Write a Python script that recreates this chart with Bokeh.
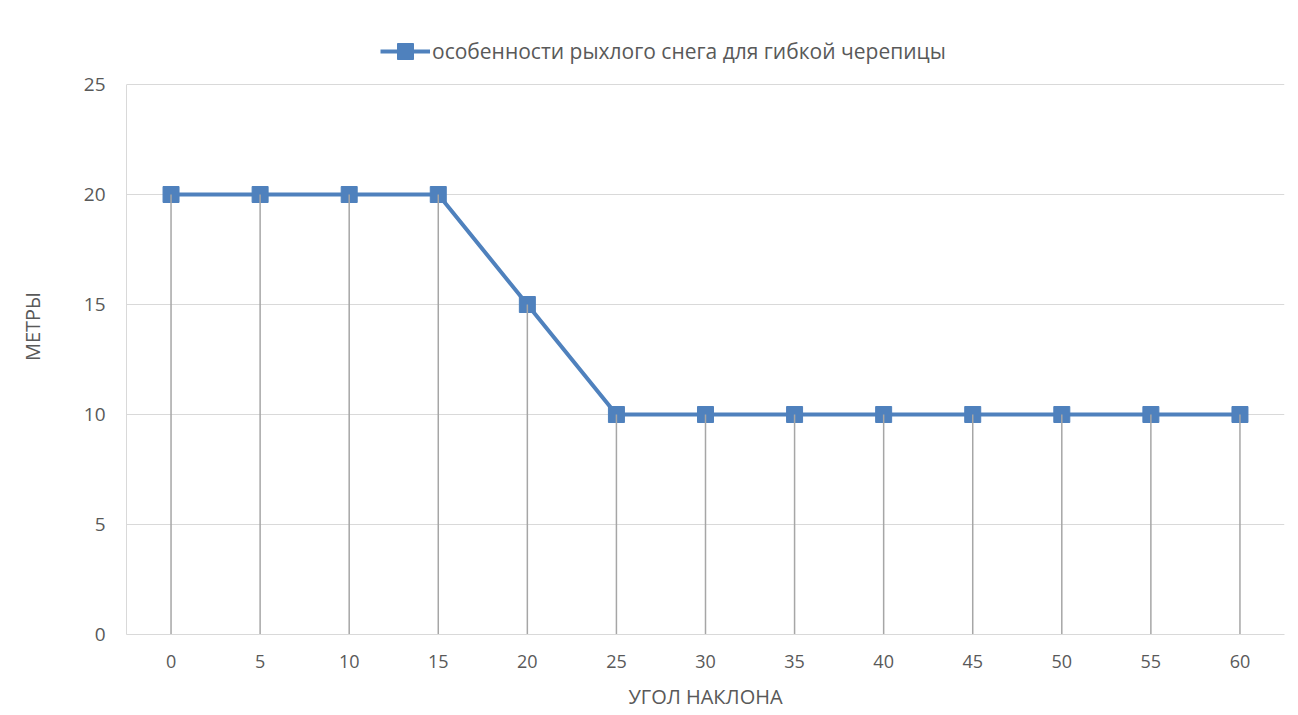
from bokeh.plotting import figure
from bokeh.models import FactorRange, Range1d, Legend, LegendItem, FixedTicker
from bokeh.embed import file_html
from bokeh.resources import INLINE

angles = ["0", "5", "10", "15", "20", "25", "30", "35", "40", "45", "50", "55", "60"]
meters = [20, 20, 20, 20, 15, 10, 10, 10, 10, 10, 10, 10, 10]
series_name = "особенности рыхлого снега для гибкой черепицы"
y_ticks = [0, 5, 10, 15, 20, 25]

FONT = "Open Sans"
TXT = "#595959"
GRID = "#d9d9d9"
BLUE = "#4f81bd"

p = figure(width=1298, height=715, x_range=FactorRange(*angles), y_range=Range1d(0, 28),
           output_backend="svg", toolbar_location=None,
           min_border_left=126, min_border_right=14, min_border_top=18, min_border_bottom=81)
p.x_range.range_padding = 0
p.outline_line_color = None
p.background_fill_color = "white"
p.border_fill_color = "white"

# grid
p.xgrid.grid_line_color = None
p.ygrid.grid_line_color = GRID
p.ygrid.grid_line_width = 1
p.yaxis.ticker = FixedTicker(ticks=y_ticks)
p.yaxis.bounds = (0, 25)

# axes
for ax in (p.xaxis[0], p.yaxis[0]):
    ax.axis_line_color = GRID
    ax.axis_line_width = 1
    ax.major_tick_line_color = None
    ax.minor_tick_line_color = None
    ax.major_label_text_font = FONT
    ax.major_label_text_color = TXT
    ax.axis_label_text_font = FONT
    ax.axis_label_text_color = TXT
    ax.axis_label_text_font_style = "normal"

p.yaxis.major_label_text_font_size = "19px"
p.yaxis.major_label_standoff = 15
p.yaxis.axis_label = "МЕТРЫ"
p.yaxis.axis_label_text_font_size = "20px"
p.yaxis.axis_label_standoff = 35

p.xaxis.major_label_text_font_size = "18px"
p.xaxis.major_label_standoff = 14
p.xaxis.axis_label = "УГОЛ НАКЛОНА"
p.xaxis.axis_label_text_font_size = "20px"
p.xaxis.axis_label_standoff = 12

# series
line_r = p.line(angles, meters, line_color=BLUE, line_width=4)
mark_r = p.scatter(angles, meters, marker="square", size=16, fill_color=BLUE, line_color=BLUE)
# drop lines (drawn over markers as in reference)
p.segment(x0=angles, y0=[0] * len(angles), x1=angles, y1=meters, line_color="#a6a6a6", line_width=1.5)

legend = Legend(items=[LegendItem(label=series_name, renderers=[line_r, mark_r])],
                orientation="horizontal", location=(254, 563),
                label_text_font=FONT, label_text_font_size="21px", label_text_color=TXT,
                glyph_width=50, glyph_height=40, label_standoff=2,
                border_line_color=None, background_fill_alpha=0, margin=0, padding=4)
p.add_layout(legend, "center")

open("out.html", "w").write(file_html(p, INLINE))
